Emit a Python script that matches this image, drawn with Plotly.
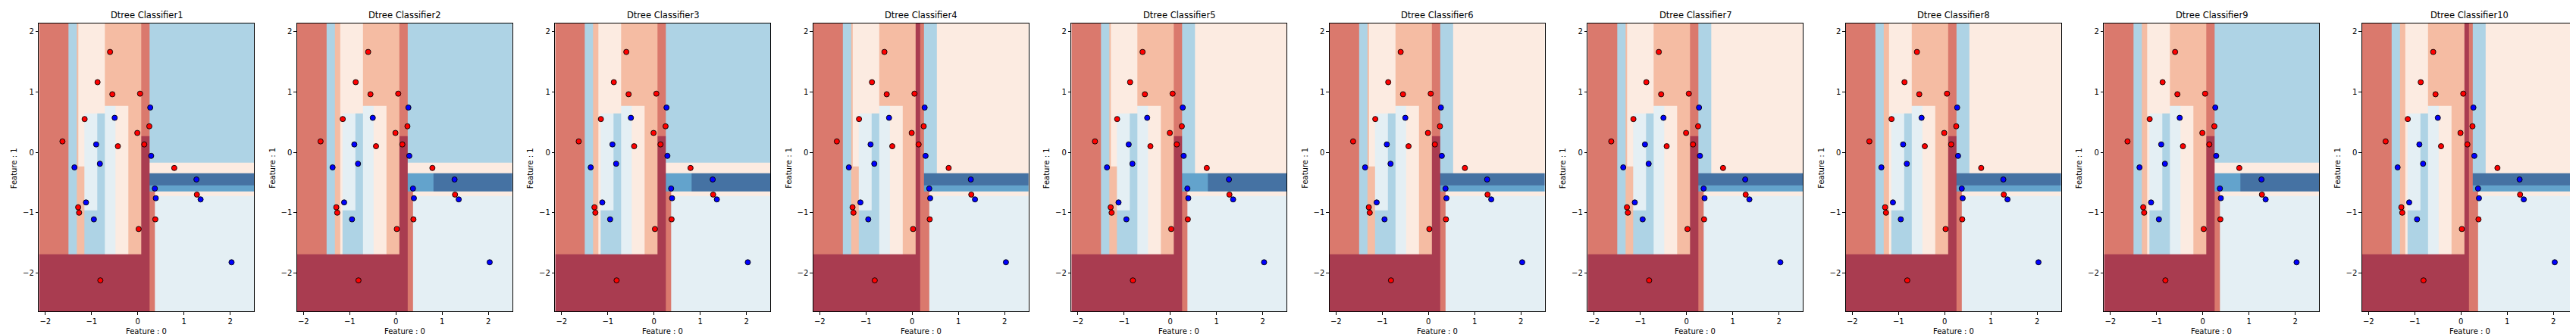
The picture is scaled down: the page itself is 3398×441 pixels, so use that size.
import numpy as np
import plotly.graph_objects as go

# ---------------- data ----------------
red_x = [-0.60, -0.87, -0.55, 0.05, -1.15, -1.63, 0.25, -0.01, -0.43, 0.14, 0.79, 1.28, -1.29, -1.27, 0.38, 0.02, -0.81]
red_y = [1.66, 1.16, 0.96, 0.97, 0.55, 0.18, 0.43, 0.32, 0.10, 0.13, -0.26, -0.70, -0.91, -1.00, -1.11, -1.27, -2.12]
blue_x = [0.27, -0.50, -0.90, -1.37, -0.82, 0.29, 1.27, 0.37, 0.39, 1.36, -1.12, -0.95, 2.03]
blue_y = [0.74, 0.57, 0.13, -0.25, -0.19, -0.06, -0.45, -0.60, -0.76, -0.78, -0.83, -1.11, -1.82]

x_min, x_max = -2.14, 2.52
y_min, y_max = -2.635, 2.135

tick_vals = [-2, -1, 0, 1, 2]
titles = [f"Dtree Classifier{i}" for i in range(1, 11)]

# probability level (0 = strongly red class ... 7 = strongly blue class)
level_colors = ["#a93c50", "#da796d", "#f5bca3", "#fcebe1",
                "#e4eff4", "#aed3e5", "#63a3cc", "#4572a3"]

# decision regions: (x0, x1, y0, y1, level), painted in order
common_regions = [
    (x_min, x_max, y_min, y_max, 4),
    (x_min, 0.25, y_min, y_max, 2),
    (x_min, -1.507, y_min, y_max, 1),
    (-1.507, -1.317, y_min, y_max, 5),
    (-1.15, -0.713, y_min, y_max, 3),
    (-1.15, -0.874, -0.96, 0.639, 4),
    (-1.15, -0.874, -1.691, -0.96, 5),
    (-0.874, -0.713, -1.691, 0.639, 5),
    (-0.713, -0.476, -1.691, 0.772, 4),
    (-0.476, -0.212, -1.691, 0.772, 3),
]
regions_A1 = [(-1.28, -1.15, -0.23, y_max, 3)]
regions_A2 = [(-1.21, -1.15, -1.691, y_max, 3)]
regions_B1 = [(0.083, 0.25, 0.271, y_max, 1),
              (0.083, 0.25, y_min, 0.271, 0),
              (x_min, 0.25, y_min, -1.691, 0)]
regions_B2 = [(0.083, 0.17, y_min, y_max, 0),
              (0.17, 0.25, y_min, y_max, 1),
              (x_min, 0.17, y_min, -1.691, 0)]
regions_C1 = [(0.25, x_max, -0.722, -0.647, 3),
              (0.25, x_max, -0.175, y_max, 5),
              (0.25, x_max, -0.347, -0.175, 3)]
regions_C2 = [(0.25, x_max, -0.722, -0.647, 3),
              (0.25, x_max, -0.347, y_max, 3),
              (0.25, 0.536, -0.347, y_max, 5)]
regions_D1 = [(0.25, x_max, -0.543, -0.347, 7),
              (0.25, x_max, -0.647, -0.543, 6)]
regions_D2 = [(0.25, 0.808, -0.647, -0.347, 6),
              (0.808, x_max, -0.647, -0.347, 7)]
regions_strip = [(0.25, 0.368, y_min, -0.647, 1)]

variants = {"A1": regions_A1, "A2": regions_A2, "B1": regions_B1, "B2": regions_B2,
            "C1": regions_C1, "C2": regions_C2, "D1": regions_D1, "D2": regions_D2}
classifier_parts = [
    ["A1", "B1", "C1", "D1"],
    ["A2", "B1", "C1", "D2"],
    ["A2", "B1", "C1", "D2"],
    ["A1", "B2", "C2", "D1"],
    ["A1", "B1", "C2", "D2"],
    ["A1", "B1", "C2", "D1"],
    ["A1", "B1", "C2", "D1"],
    ["A2", "B1", "C2", "D1"],
    ["A2", "B1", "C1", "D2"],
    ["A2", "B2", "C2", "D1"],
]


def region_grid(rects):
    xe = sorted(set([r[0] for r in rects] + [r[1] for r in rects] + [x_min, x_max]))
    ye = sorted(set([r[2] for r in rects] + [r[3] for r in rects] + [y_min, y_max]))
    xe = np.array(xe)
    ye = np.array(ye)
    xc = (xe[:-1] + xe[1:]) / 2
    yc = (ye[:-1] + ye[1:]) / 2
    z = np.zeros((len(yc), len(xc)))
    XX, YY = np.meshgrid(xc, yc)
    for x0, x1, y0, y1, lv in rects:
        m = (XX > x0) & (XX < x1) & (YY > y0) & (YY < y1)
        z[m] = lv
    return xe, ye, z


colorscale = []
n = len(level_colors)
for k, c in enumerate(level_colors):
    colorscale.append([k / n, c])
    colorscale.append([(k + 1) / n, c])

# ---------------- figure ----------------
W, H = 3398, 441
fig = go.Figure()

plot_left0 = 43.3
plot_step = 340.5
plot_w = 284.0
top_px, bot_px = 22.7, 403.3
ydom = [1 - bot_px / H, 1 - top_px / H]

font_family = "DejaVu Sans"
annotations = []
for i in range(10):
    rects = list(common_regions)
    for p in classifier_parts[i]:
        rects += variants[p]
    rects += regions_strip
    xe, ye, z = region_grid(rects)
    sfx = "" if i == 0 else str(i + 1)
    fig.add_trace(go.Heatmap(x=xe, y=ye, z=z, colorscale=colorscale, zmin=-0.5, zmax=n - 0.5,
                             showscale=False, hoverinfo="skip",
                             xaxis="x" + sfx, yaxis="y" + sfx))
    fig.add_trace(go.Scatter(x=red_x, y=red_y, mode="markers", showlegend=False,
                             marker=dict(color="#ff0000", size=7, line=dict(color="black", width=0.9)),
                             xaxis="x" + sfx, yaxis="y" + sfx))
    fig.add_trace(go.Scatter(x=blue_x, y=blue_y, mode="markers", showlegend=False,
                             marker=dict(color="#0000ff", size=7, line=dict(color="black", width=0.9)),
                             xaxis="x" + sfx, yaxis="y" + sfx))
    L = plot_left0 + i * plot_step
    xdom = [L / W, (L + plot_w) / W]
    axcommon = dict(showgrid=False, zeroline=False, showline=True, mirror=True,
                    linecolor="black", linewidth=1, ticks="outside", ticklen=3.5,
                    tickwidth=1, tickcolor="black", tickvals=tick_vals,
                    tickfont=dict(family=font_family, size=10, color="black"))
    fig.layout["xaxis" + sfx] = dict(axcommon, domain=xdom, range=[x_min, x_max],
                                     anchor="y" + sfx)
    fig.layout["yaxis" + sfx] = dict(axcommon, domain=ydom, range=[y_min, y_max],
                                     anchor="x" + sfx)
    cx = (L + plot_w / 2) / W
    annotations.append(dict(text=titles[i], x=cx, y=1 - 12.5 / H, xref="paper", yref="paper",
                            showarrow=False, xanchor="center", yanchor="middle",
                            font=dict(family=font_family, size=11.5, color="black")))
    annotations.append(dict(text="Feature : 0", x=cx, y=1 - 429 / H, xref="paper", yref="paper",
                            showarrow=False, xanchor="center", yanchor="middle",
                            font=dict(family=font_family, size=10, color="black")))
    annotations.append(dict(text="Feature : 1", x=(L - 33) / W, y=1 - 214 / H, xref="paper",
                            yref="paper", showarrow=False, xanchor="center", yanchor="middle",
                            textangle=-90,
                            font=dict(family=font_family, size=10, color="black")))

fig.update_layout(width=W, height=H, margin=dict(l=0, r=0, t=0, b=0),
                  paper_bgcolor="white", plot_bgcolor="white",
                  annotations=annotations, showlegend=False)
fig.write_html("out.html")
